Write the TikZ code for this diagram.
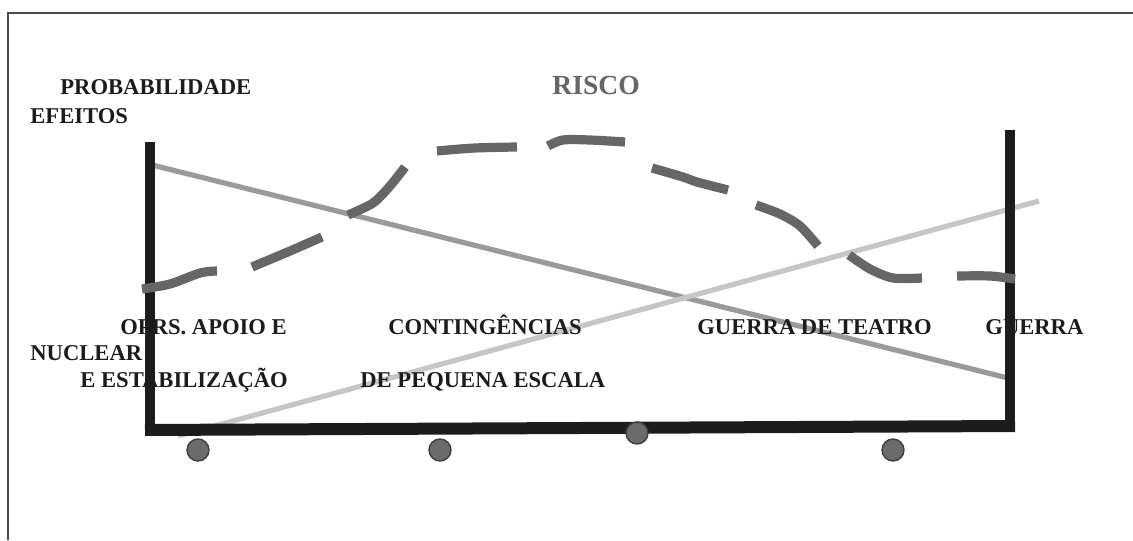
\documentclass[tikz,border=0pt]{standalone}
\usepackage{fontspec}
\setmainfont{Liberation Serif}
\usepackage{tikz}

\definecolor{inkblack}{HTML}{1C1C1C}
\definecolor{riskgray}{HTML}{666666}
\definecolor{effgray}{HTML}{9A9A9A}
\definecolor{probgray}{HTML}{C6C6C6}
\definecolor{dotgray}{HTML}{6B6B6B}
\definecolor{framegray}{HTML}{4A4A4A}

\tikzset{
  lbl/.style={anchor=base west, inner sep=0pt, text=inkblack,
    font=\fontsize{11.3}{13}\selectfont\bfseries},
  axisline/.style={line width=5pt, draw=inkblack},
  riskdash/.style={line width=4.6pt, draw=riskgray},
  dotmark/.style={circle, draw=inkblack!85, line width=0.7pt, fill=dotgray,
    minimum size=11pt, inner sep=0pt}
}

\begin{document}
\begin{tikzpicture}[x=0.5pt,y=-0.5pt]
\useasboundingbox (0,0) rectangle (1133,540);
%\draw[step=50,gray,very thin] (0,0) grid (1133,540);

\draw [framegray, line width=1.2pt] (8,540) -- (8,13) -- (1133,13);

\coordinate (ltop) at (150,142);
\coordinate (lbot) at (150,436);
\coordinate (bl) at (145,430);
\coordinate (br) at (1015,426);
\coordinate (rtop) at (1010,130);
\coordinate (rbot) at (1010,431);

% effeitos / probabilidade
\draw [effgray, line width=2.6pt] (152,165) -- (1008,378);
\draw [probgray, line width=2.6pt] (178,436) -- (1039,201);

\node [lbl] (prob) at (60,95) {PROBABILIDADE};
\node [lbl] (efei) at (30,123) {EFEITOS};
\node [lbl, text=riskgray, font=\fontsize{13.8}{15}\selectfont\bfseries] (risco) at (552,95) {RISCO};

\node [lbl] (opers) at (120,334) {OPRS. APOIO E};
\node [lbl] (nucl) at (30,360) {NUCLEAR};
\node [lbl] (estab) at (80,387) {E ESTABILIZAÇÃO};
\node [lbl] (cont) at (388,334) {CONTINGÊNCIAS};
\node [lbl] (peq) at (360,387) {DE PEQUENA ESCALA};
\node [lbl] (teatro) at (697,334) {GUERRA DE TEATRO};
\node [lbl] (guerra) at (985,334) {GUERRA};

% eixos
\draw [axisline] (ltop) -- (lbot);
\draw [axisline, line width=6pt] (bl) -- (br);
\draw [axisline] (rtop) -- (rbot);

% risco, tracejado
\draw [riskdash] plot[smooth] coordinates {(142,289) (170,284) (200,273) (217,271)};
\draw [riskdash] plot[smooth] coordinates {(252,267) (290,251) (322,237)};
\draw [riskdash] plot[smooth] coordinates {(348,215) (373,203) (390,186) (405,167)};
\draw [riskdash] plot[smooth] coordinates {(437,151) (475,148) (517,147)};
\draw [riskdash] plot[smooth] coordinates {(548,146) (563,140) (590,140) (625,142)};
\draw [riskdash] plot[smooth] coordinates {(652,168) (683,177) (697,182) (728,190)};
\draw [riskdash] plot[smooth] coordinates {(756,205) (780,214) (800,226) (818,246)};
\draw [riskdash] plot[smooth] coordinates {(849,255) (870,269) (893,278) (922,278)};
\draw [riskdash] plot[smooth] coordinates {(957,276) (990,276) (1015,279)};

\node [dotmark] (d1) at (198,450) {};
\node [dotmark] (d2) at (440,450) {};
\node [dotmark] (d3) at (637,433) {};
\node [dotmark] (d4) at (893,450) {};
\end{tikzpicture}
\end{document}
